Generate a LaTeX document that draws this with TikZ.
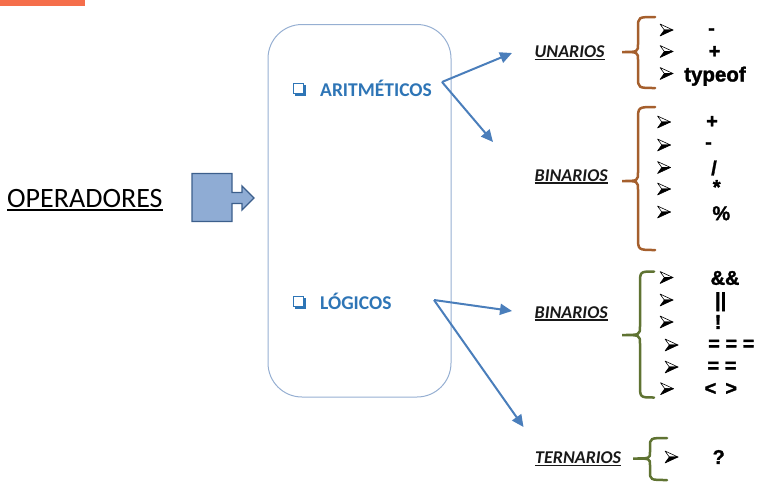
\documentclass[tikz,border=0pt]{standalone}
\usepackage{fontspec}
\setmainfont{Carlito}
\newfontfamily\itemfont{Liberation Sans}[BoldFeatures={FakeBold=1.5}]
\usetikzlibrary{arrows.meta}
\definecolor{orangebar}{RGB}{245,110,75}
\definecolor{boxline}{RGB}{150,175,210}
\definecolor{blueText}{RGB}{46,117,182}
\definecolor{arrowBlue}{RGB}{74,126,187}
\definecolor{shapeFill}{RGB}{143,172,212}
\definecolor{shapeLine}{RGB}{60,95,140}
\definecolor{braceBrown}{RGB}{165,95,45}
\definecolor{braceGreen}{RGB}{95,115,50}
\definecolor{labelText}{RGB}{25,25,25}
\tikzset{
  lbl/.style={anchor=base west, inner sep=0pt, font=\fontsize{18}{20}\selectfont\bfseries\itshape, text=labelText},
  cat/.style={anchor=base west, inner sep=0pt, font=\fontsize{19.5}{22}\selectfont\bfseries, text=blueText},
  itm/.style={inner sep=0pt, font=\itemfont\fontsize{20}{22}\selectfont\bfseries},
  conn/.style={draw=arrowBlue, line width=2pt, -{Triangle[length=12pt,width=11pt]}},
  brc/.style={line width=2.5pt, line cap=round},
  uline/.style={line width=1.4pt, draw=labelText},
  bul/.pic={
    \draw[line width=0.6pt, fill=white, line join=round] (6.5,0) -- (-6.5,-6) -- (-2.2,0) -- cycle;
    \fill[black] (6.5,0) -- (-2.2,0) -- (-6.5,6) -- cycle;
    \draw[line width=0.6pt, line join=round] (6.5,0) -- (-2.2,0) -- (-6.5,6) -- cycle;
  },
  chk/.pic={
    \draw[blueText, line width=1pt] (0,0) rectangle (10,10);
    \fill[blueText] (10,1.5) rectangle (12.5,12.5);
    \fill[blueText] (1.5,10) rectangle (12.5,12.5);
  }
}
\begin{document}
\begin{tikzpicture}[x=1pt,y=-1pt]
\useasboundingbox (0,0) rectangle (771,496);
% orange bar
\fill[orangebar] (0,0) rectangle (85,6);
% title
\node[anchor=base west, inner sep=0pt, font=\fontsize{28}{30}\selectfont] (op) at (7,207) {OPERADORES};
\draw[line width=1.8pt] ([yshift=-2.6pt]op.base west) -- ([yshift=-2.6pt]op.base east);
% block arrow shape
\draw[fill=shapeFill, draw=shapeLine, line width=1.3pt, line join=miter]
  (192,173.5) -- (232,173.5) -- (232,192.5) -- (242,192.5) -- (242,186) -- (254,198)
  -- (242,210) -- (242,203.5) -- (232,203.5) -- (232,221.5) -- (192,221.5) -- cycle;
% rounded container
\draw[boxline, line width=1pt, rounded corners=34pt] (268,24.5) rectangle (451,397);
% categories
\pic at (293,83) {chk};
\node[cat] (arit) at (320,96.5) {ARITMÉTICOS};
\pic at (293,296) {chk};
\node[cat] (logi) at (320,309) {LÓGICOS};
% labels
\node[lbl] (un) at (534.5,57.5) {UNARIOS};
\node[lbl] (bin1) at (534.5,181) {BINARIOS};
\node[lbl] (bin2) at (534.5,318) {BINARIOS};
\node[lbl] (ter) at (535,463.5) {TERNARIOS};
\foreach \n in {un,bin1,bin2,ter}{
  \draw[uline] ([yshift=-2pt]\n.base west) -- ([yshift=-2pt]\n.base east);
}
% connectors
\coordinate (aO) at (442,82);
\coordinate (aU) at (512,53);
\coordinate (aB) at (493,142);
\coordinate (lO) at (434,300);
\coordinate (lB) at (512,311);
\coordinate (lT) at (523.5,427);
\draw[conn] (aO) -- (aU);
\draw[conn] (aO) -- (aB);
\draw[conn] (lO) -- (lB);
\draw[conn] (lO) -- (lT);
% braces
\draw[brc, braceBrown] (655,17) .. controls (638,17) .. (638,28) -- (638,44) .. controls (638,52) .. (622,52)
  .. controls (638,52) .. (638,60) -- (638,77) .. controls (638,88) .. (655,88);
\draw[brc, braceBrown] (655,107) .. controls (638,107) .. (638,120) -- (638,172) .. controls (638,181) .. (622,181)
  .. controls (638,181) .. (638,190) -- (638,237) .. controls (638,250) .. (655,250);
\draw[brc, braceGreen] (654,271.5) .. controls (640,271.5) .. (640,284) -- (640,326) .. controls (640,335) .. (622,335)
  .. controls (640,335) .. (640,344) -- (640,385) .. controls (640,397.5) .. (654,397.5);
\draw[brc, braceGreen] (667,438) .. controls (650,438) .. (650,447) -- (650,452) .. controls (650,458.5) .. (633,458.5)
  .. controls (650,458.5) .. (650,465) -- (650,471) .. controls (650,480) .. (667,480);
% bullets
\foreach \x/\y in {666.5/30, 666.5/51.5, 666.5/73.5,
                   664/122, 664/145, 664/167.5, 664/189, 664/212,
                   666.5/277.5, 666.5/300, 666.5/322, 671.5/345, 671.5/367, 667/388.7,
                   671.5/457}{
  \pic at (\x,\y) {bul};
}
% items
\node[itm] (u1) at (711.5,31.5) {-};
\node[itm] (u2) at (714.5,52) {+};
\node[itm, anchor=base west, font=\itemfont\fontsize{20.5}{22}\selectfont\bfseries] (u3) at (684,81.5) {typeof};
\node[itm] (b1) at (712,122) {+};
\node[itm] (b2) at (708.5,145.5) {-};
\node[itm] (b3) at (714,168) {/};
\node[itm] (b4) at (716.7,187) {*};
\node[itm] (b5) at (721.3,213.3) {\%};
\node[itm] (l1) at (725,278) {\&\&};
\node[itm] (l2) at (720.7,301.7) {||};
\node[itm] (l3) at (718,322) {!};
\node[itm] (l4) at (731.3,345) {= = =};
\node[itm] (l5) at (722,367) {= =};
\node[itm] (l6) at (720.8,389) {<\hspace{9pt}>};
\node[itm] (t1) at (718.7,457) {?};
\end{tikzpicture}
\end{document}
